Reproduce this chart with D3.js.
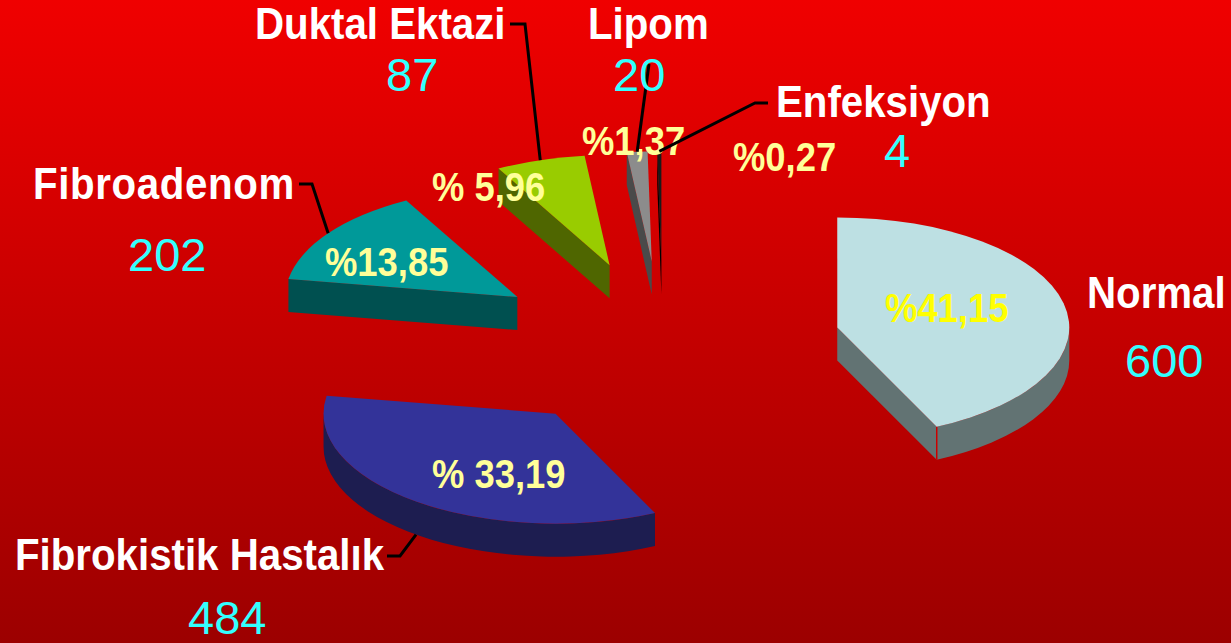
<!DOCTYPE html>
<html lang="tr">
<head>
<meta charset="utf-8">
<title>Meme patolojileri</title>
<style>
  body { margin: 0; overflow: hidden; }
  text { font-family: "Liberation Sans", Arial, sans-serif; }
</style>
</head>
<body>
<script src="https://cdn.jsdelivr.net/npm/d3@7"></script>
<svg width="1231" height="643"></svg>
<script>
  // data
  var categories = ["Normal", "Fibrokistik Hastalık", "Fibroadenom", "Duktal Ektazi", "Lipom", "Enfeksiyon"];
  var counts = [600, 484, 202, 87, 20, 4];
  var percentLabels = ["%41,15", "% 33,19", "%13,85", "% 5,96", "%1,37", "%0,27"];

  var topColors = ["#bde0e3", "#333399", "#009999", "#99cc00", "#8c8c8c", "#1a1a1a"];
  var sideColors = ["#627373", "#1d1d50", "#005050", "#4f6600", "#4a4a4a", "#000000"];
  var pctColors = ["#ffff00", "#ffff99", "#ffff99", "#ffff99", "#ffff99", "#ffff99"];

  // label placement: left x, baseline y
  var namePos = [[1087, 308], [15, 570], [33, 199], [255, 39], [588, 39], [776, 117]];
  var nameSpacing = [0, 0, 0.7, 0, 0, 0];
  var countPos = [[1125, 377], [188, 634], [128, 271], [386, 91], [613, 91], [884, 167]];
  var pctPos = [[885, 322], [432, 488], [325, 276], [432, 201], [582, 155], [733, 171]];
  // leader line start points, the line then runs to the slice edge
  var leaderPts = [null, [[387, 556], [400, 556]], [[299, 184], [312, 184]], [[510, 24], [525, 24]], [[649, 64]], [[768, 103], [755, 103]]];

  var svg = d3.select("svg");
  var W = +svg.attr("width"), H = +svg.attr("height");

  var cx = 663, cy = 346, rx = 232, ry = 110, depth = 33, explode = 0.77;

  var defs = svg.append("defs");
  var grad = defs.append("linearGradient").attr("id", "bg")
    .attr("x1", 0).attr("y1", 0).attr("x2", 0).attr("y2", 1);
  grad.append("stop").attr("offset", "0%").attr("stop-color", "#f00000");
  grad.append("stop").attr("offset", "100%").attr("stop-color", "#9c0000");

  svg.append("rect").attr("width", W).attr("height", H).attr("fill", "url(#bg)");

  var pie = d3.pie().sort(null).value(function (d) { return d; });
  var arcs = pie(counts);

  // pie angle (0 at top, clockwise) -> screen angle
  function phi(a) { return a - Math.PI / 2; }
  function pt(o, f, dy) {
    return [o[0] + rx * Math.cos(f), o[1] + ry * Math.sin(f) + (dy || 0)];
  }
  function P(p) { return p[0].toFixed(2) + "," + p[1].toFixed(2); }

  var slices = arcs.map(function (d, i) {
    var f0 = phi(d.startAngle), f1 = phi(d.endAngle), fm = (f0 + f1) / 2;
    var apex = [cx + explode * rx * Math.cos(fm), cy + explode * ry * Math.sin(fm)];
    return { i: i, f0: f0, f1: f1, fm: fm, apex: apex };
  });

  var g = svg.append("g");

  slices.forEach(function (s) {
    var sg = g.append("g").attr("class", "slice");
    var a = s.apex;
    var a2 = [a[0], a[1] + depth];
    var side = sideColors[s.i];

    // radial walls facing the viewer
    [[s.f0, Math.cos(s.f0) < -0.001], [s.f1, Math.cos(s.f1) > 0.001]].forEach(function (w) {
      if (!w[1]) return;
      var p = pt(a, w[0]), q = pt(a, w[0], depth);
      sg.append("path")
        .attr("d", "M" + P(a) + "L" + P(p) + "L" + P(q) + "L" + P(a2) + "Z")
        .attr("fill", side);
    });

    // outer wall, front half only
    var s0 = Math.max(s.f0, 0), s1 = Math.min(s.f1, Math.PI);
    if (s1 > s0) {
      var large = (s1 - s0) > Math.PI ? 1 : 0;
      sg.append("path")
        .attr("d", "M" + P(pt(a, s0)) +
          "A" + rx + "," + ry + " 0 " + large + " 1 " + P(pt(a, s1)) +
          "L" + P(pt(a, s1, depth)) +
          "A" + rx + "," + ry + " 0 " + large + " 0 " + P(pt(a, s0, depth)) + "Z")
        .attr("fill", side);
      // small seam between the radial wall and the outer wall
      if (s.f1 < Math.PI && Math.cos(s.f1) > 0.001) {
        sg.append("path")
          .attr("d", "M" + P(pt(a, s.f1)) + "L" + P(pt(a, s.f1, depth)))
          .attr("stroke", "#cc0000")
          .attr("stroke-width", 1.5);
      }
    }

    // top face
    var big = (s.f1 - s.f0) > Math.PI ? 1 : 0;
    sg.append("path")
      .attr("d", "M" + P(a) + "L" + P(pt(a, s.f0)) +
        "A" + rx + "," + ry + " 0 " + big + " 1 " + P(pt(a, s.f1)) + "Z")
      .attr("fill", topColors[s.i]);
  });

  // percentages on slices
  svg.append("g").selectAll("text")
    .data(percentLabels)
    .enter().append("text")
    .attr("transform", function (d, i) { return "translate(" + pctPos[i][0] + "," + pctPos[i][1] + ") scale(0.91,1)"; })
    .attr("font-size", 40)
    .attr("font-weight", "bold")
    .attr("fill", function (d, i) { return pctColors[i]; })
    .text(function (d) { return d; });

  // leader lines
  var line = d3.line();
  slices.forEach(function (s) {
    var start = leaderPts[s.i];
    if (!start) return;
    var end = pt(s.apex, s.fm, Math.sin(s.fm) > 0 ? depth : 0);
    svg.append("path")
      .attr("d", line(start.concat([end])))
      .attr("fill", "none")
      .attr("stroke", "#000")
      .attr("stroke-width", 3);
  });

  // category names
  svg.append("g").selectAll("text")
    .data(categories)
    .enter().append("text")
    .attr("transform", function (d, i) { return "translate(" + namePos[i][0] + "," + namePos[i][1] + ") scale(0.915,1)"; })
    .attr("font-size", 44)
    .attr("font-weight", "bold")
    .attr("letter-spacing", function (d, i) { return nameSpacing[i]; })
    .attr("fill", "#ffffff")
    .text(function (d) { return d; });

  // counts
  svg.append("g").selectAll("text")
    .data(counts)
    .enter().append("text")
    .attr("x", function (d, i) { return countPos[i][0]; })
    .attr("y", function (d, i) { return countPos[i][1]; })
    .attr("font-size", 47)
    .attr("fill", "#33ffff")
    .text(function (d) { return d; });
</script>
</body>
</html>
